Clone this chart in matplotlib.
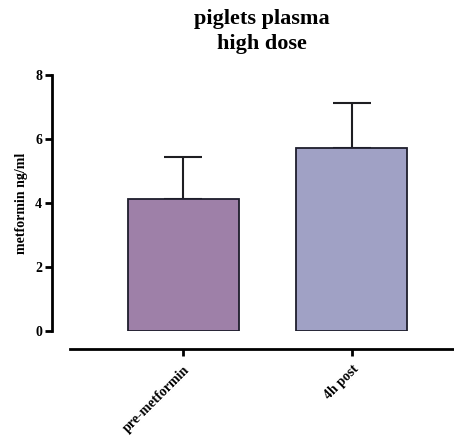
import matplotlib
matplotlib.use("Agg")
import matplotlib.pyplot as plt

groups = ["pre-metformin", "4h post"]
means = [4.13, 5.73]
sd = [1.32, 1.41]
colors = ["#9e80a8", "#a0a1c5"]

plt.rcParams['font.family'] = ['Liberation Serif', 'DejaVu Serif']
plt.rcParams['font.weight'] = 'bold'

fig = plt.figure(figsize=(4.54, 4.46), dpi=100)
W, H = 454, 446
ax = fig.add_axes([70 / W, (H - 331) / H, (453 - 70) / W, (331 - 75) / H])

# offset spines first: set_position resets the tick labels
for s in ["top", "right"]:
    ax.spines[s].set_visible(False)
ax.spines["left"].set_position(("outward", 13))
ax.spines["bottom"].set_position(("outward", 13))
ax.spines["left"].set_linewidth(2)
ax.spines["bottom"].set_linewidth(2)

x = list(range(len(groups)))
ax.bar(x, means, width=0.657, color=colors, edgecolor="#1e1e2c", linewidth=1.3, zorder=2)
ax.errorbar(x, means, yerr=[[0, 0], sd], fmt="none", ecolor="#1e1e22",
            elinewidth=1.5, capsize=14, capthick=1.5, zorder=1)

ax.set_xlim(-0.669, 1.598)
ax.set_ylim(0, 8)
ax.set_yticks([0, 2, 4, 6, 8])
ax.set_xticks(x)
ax.set_xticklabels(groups)
ax.tick_params(axis="y", width=2, length=5, pad=2, labelsize=10)
ax.tick_params(axis="x", width=2, length=5, pad=5, labelsize=10)
plt.setp(ax.get_xticklabels(), rotation=45, ha="right", rotation_mode="anchor",
         fontweight="bold")
plt.setp(ax.get_yticklabels(), fontweight="bold")

ax.set_ylabel("metformin ng/ml", fontsize=10, fontweight="bold", labelpad=5)
ax.set_title("piglets plasma\nhigh dose", fontsize=16, fontweight="bold", pad=19,
             linespacing=1.3)

fig.savefig("out.png", dpi=100)
